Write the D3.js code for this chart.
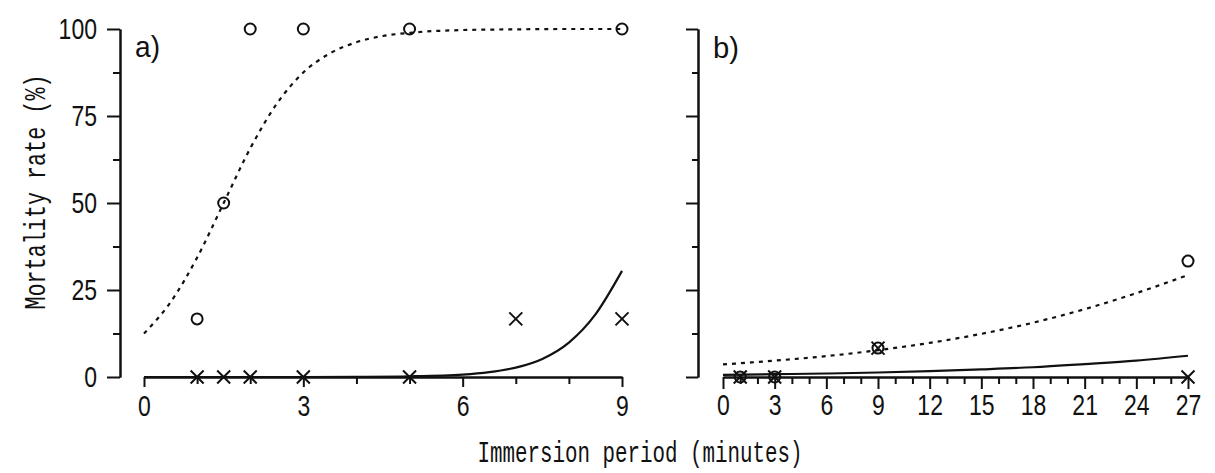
<!DOCTYPE html>
<html>
<head>
    <meta charset="utf-8">
    <!-- Load d3.js -->
    <script src="https://d3js.org/d3.v7.min.js"></script>
    <style>
        body { margin: 0; background: #fff; }
    </style>
</head>

<body>

    <!-- Create a div where the graph will take place -->
    <div id="my_dataviz"></div>

    <script>

        // ---- data ----
        // panel a) observed points
        var aPeriod = [1, 1.5, 2, 3, 5, 9];
        var aCircle = [16.7, 50, 100, 100, 100, 100];
        var aCrossPeriod = [1, 1.5, 2, 3, 5, 7, 9];
        var aCross = [0, 0, 0, 0, 0, 16.7, 16.7];
        // panel a) fitted curves
        var aDotX = [0, 0.5, 1, 1.5, 2, 2.5, 3, 3.5, 4, 4.5, 5, 6, 7, 8, 9];
        var aDotY = [12.5, 21.5, 34.3, 50, 65.7, 78.5, 87.5, 93, 96.2, 98, 98.9, 99.7, 99.9, 100, 100];
        var aSolidX = [0, 1, 2, 3, 4, 5, 6, 6.5, 7, 7.5, 8, 8.5, 9];
        var aSolidY = [0, 0, 0, 0, 0.05, 0.2, 0.7, 1.4, 2.7, 5.2, 9.9, 18, 30.5];

        // panel b) observed points
        var bPeriod = [1, 3, 9, 27];
        var bCircle = [0, 0, 8.3, 33.3];
        var bCross = [0, 0, 8.3, 0];
        // panel b) fitted curves
        var bCurveX = [0, 3, 6, 9, 12, 15, 18, 21, 24, 27];
        var bDotY = [3.6, 4.7, 6.0, 7.7, 9.8, 12.4, 15.6, 19.5, 24.1, 29.3];
        var bSolidY = [0.6, 0.8, 1.0, 1.3, 1.7, 2.2, 2.8, 3.7, 4.7, 6.1];

        // ticks
        var yMajor = [0, 25, 50, 75, 100];
        var yMinor = [12.5, 37.5, 62.5, 87.5];
        var aXMajor = [0, 3, 6, 9];
        var aXMinor = [1, 2, 4, 5, 7, 8];
        var bXMajor = [0, 3, 6, 9, 12, 15, 18, 21, 24, 27];
        var bXMinor = d3.range(0, 28).filter(function (d) { return d % 3 != 0; });

        var width = 1215, height = 473;
        var ink = "#111";

        var svg = d3.select("#my_dataviz")
            .append("svg")
            .attr("width", width)
            .attr("height", height)
            .style("background", "#fff");

        // scales
        var y = d3.scaleLinear().domain([0, 100]).range([377, 29]);
        var xa = d3.scaleLinear().domain([0, 9]).range([144, 622]);
        var xb = d3.scaleLinear().domain([0, 27]).range([723, 1188]);

        // squeeze the tick digits so they look narrow like the original
        function styleLabels(g) {
            g.selectAll("text")
                .attr("fill", ink)
                .style("font-family", "'Liberation Sans', Arial, sans-serif")
                .style("font-size", "30px")
                .attr("textLength", function (d) { return String(d).length * 12.8; })
                .attr("lengthAdjust", "spacingAndGlyphs");
        }
        function styleAxis(g) {
            g.select(".domain").attr("stroke", ink).attr("stroke-width", 2);
            g.selectAll(".tick line").attr("stroke", ink).attr("stroke-width", 2);
        }

        // ---- y axes ----
        var yAxA = svg.append("g").attr("transform", "translate(120,0)")
            .call(d3.axisLeft(y).tickValues(yMajor).tickSize(13).tickSizeOuter(0).tickPadding(10));
        styleAxis(yAxA); styleLabels(yAxA);
        var yAxAm = svg.append("g").attr("transform", "translate(120,0)")
            .call(d3.axisLeft(y).tickValues(yMinor).tickSize(7).tickSizeOuter(0).tickFormat(""));
        styleAxis(yAxAm);

        var yAxB = svg.append("g").attr("transform", "translate(698,0)")
            .call(d3.axisLeft(y).tickValues(yMajor).tickSize(12).tickSizeOuter(0).tickFormat(""));
        styleAxis(yAxB);
        var yAxBm = svg.append("g").attr("transform", "translate(698,0)")
            .call(d3.axisLeft(y).tickValues(yMinor).tickSize(6).tickSizeOuter(0).tickFormat(""));
        styleAxis(yAxBm);

        // ---- x axes ----
        var xAxA = svg.append("g").attr("transform", "translate(0,377)")
            .call(d3.axisBottom(xa).tickValues(aXMajor).tickSize(10).tickSizeOuter(0).tickPadding(8));
        styleAxis(xAxA); styleLabels(xAxA);
        var xAxAm = svg.append("g").attr("transform", "translate(0,377)")
            .call(d3.axisBottom(xa).tickValues(aXMinor).tickSize(7).tickSizeOuter(0).tickFormat(""));
        styleAxis(xAxAm);

        var xAxB = svg.append("g").attr("transform", "translate(0,377)")
            .call(d3.axisBottom(xb).tickValues(bXMajor).tickSize(12).tickSizeOuter(0).tickPadding(5));
        styleAxis(xAxB); styleLabels(xAxB);
        var xAxBm = svg.append("g").attr("transform", "translate(0,377)")
            .call(d3.axisBottom(xb).tickValues(bXMinor).tickSize(7).tickSizeOuter(0).tickFormat(""));
        styleAxis(xAxBm);

        // ---- curves ----
        function drawCurve(xs, ys, xScale, dashed) {
            var pts = xs.map(function (d, i) { return [d, ys[i]]; });
            svg.append("path")
                .datum(pts)
                .attr("fill", "none")
                .attr("stroke", ink)
                .attr("stroke-width", 2.2)
                .attr("stroke-dasharray", dashed ? "4,5" : null)
                .attr("d", d3.line()
                    .curve(d3.curveMonotoneX)
                    .x(function (d) { return xScale(d[0]); })
                    .y(function (d) { return y(d[1]); })
                );
        }
        drawCurve(aDotX, aDotY, xa, true);
        drawCurve(aSolidX, aSolidY, xa, false);
        drawCurve(bCurveX, bDotY, xb, true);
        drawCurve(bCurveX, bSolidY, xb, false);

        // ---- markers ----
        function drawCircles(xs, ys, xScale) {
            svg.append("g").selectAll("circle")
                .data(xs)
                .enter()
                .append("circle")
                .attr("cx", function (d) { return xScale(d); })
                .attr("cy", function (d, i) { return y(ys[i]); })
                .attr("r", 5.5)
                .attr("fill", "none")
                .attr("stroke", ink)
                .attr("stroke-width", 2);
        }
        function drawCrosses(xs, ys, xScale) {
            svg.append("g").selectAll("path")
                .data(xs)
                .enter()
                .append("path")
                .attr("transform", function (d, i) {
                    return "translate(" + xScale(d) + "," + y(ys[i]) + ")";
                })
                .attr("d", "M-6.5,-6.5L6.5,6.5M-6.5,6.5L6.5,-6.5")
                .attr("fill", "none")
                .attr("stroke", ink)
                .attr("stroke-width", 2);
        }
        drawCircles(aPeriod, aCircle, xa);
        drawCrosses(aCrossPeriod, aCross, xa);
        drawCircles(bPeriod, bCircle, xb);
        drawCrosses(bPeriod, bCross, xb);

        // ---- panel letters ----
        svg.append("text")
            .attr("x", 135).attr("y", 57)
            .attr("fill", ink)
            .style("font-family", "'Liberation Sans', Arial, sans-serif")
            .style("font-size", "29px")
            .attr("textLength", 25).attr("lengthAdjust", "spacingAndGlyphs")
            .text("a)");
        svg.append("text")
            .attr("x", 713).attr("y", 58)
            .attr("fill", ink)
            .style("font-family", "'Liberation Sans', Arial, sans-serif")
            .style("font-size", "29px")
            .attr("textLength", 26).attr("lengthAdjust", "spacingAndGlyphs")
            .text("b)");

        // ---- axis titles ----
        svg.append("text")
            .attr("x", 640).attr("y", 462)
            .attr("text-anchor", "middle")
            .attr("fill", ink)
            .style("font-family", "'Liberation Mono', 'DejaVu Sans Mono', monospace")
            .style("font-size", "30px")
            .attr("textLength", 325).attr("lengthAdjust", "spacingAndGlyphs")
            .text("Immersion period (minutes)");

        svg.append("text")
            .attr("transform", "translate(45,192) rotate(-90)")
            .attr("text-anchor", "middle")
            .attr("fill", ink)
            .style("font-family", "'Liberation Mono', 'DejaVu Sans Mono', monospace")
            .style("font-size", "29px")
            .attr("textLength", 235).attr("lengthAdjust", "spacingAndGlyphs")
            .text("Mortality rate (%)");

    </script>
</body>

</html>
